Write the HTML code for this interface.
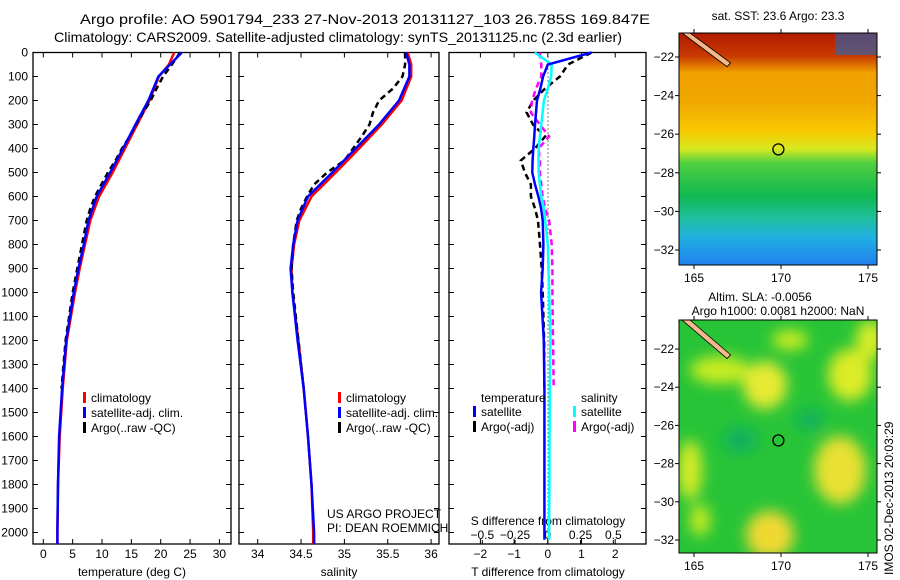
<!DOCTYPE html>
<html><head><meta charset="utf-8"><style>
body{margin:0;background:#fff;}
svg{display:block;font-family:"Liberation Sans",sans-serif;}
</style></head><body>
<svg id="fig" width="900" height="580" viewBox="0 0 900 580" xmlns="http://www.w3.org/2000/svg">
<defs>
<linearGradient id="sstg" x1="0" y1="0" x2="0" y2="1">
<stop offset="0" stop-color="#b01a00"/><stop offset="0.1" stop-color="#c83a00"/>
<stop offset="0.17" stop-color="#f0a000"/><stop offset="0.3" stop-color="#f0a800"/>
<stop offset="0.42" stop-color="#f8c800"/><stop offset="0.5" stop-color="#d8e820"/>
<stop offset="0.56" stop-color="#50d040"/><stop offset="0.7" stop-color="#10b850"/>
<stop offset="0.8" stop-color="#20c0a0"/><stop offset="0.88" stop-color="#20b0e0"/>
<stop offset="1" stop-color="#2080f0"/></linearGradient>
<filter id="blur" x="-50%" y="-50%" width="200%" height="200%"><feGaussianBlur stdDeviation="7"/></filter>
<clipPath id="slaclip"><rect x="679" y="320" width="198" height="233"/></clipPath>
</defs>
<g font-size="14" fill="#000">
<text x="80" y="24" textLength="570" lengthAdjust="spacingAndGlyphs">Argo profile: AO 5901794_233 27-Nov-2013 20131127_103 26.785S 169.847E</text>
<text x="54" y="42" textLength="568" lengthAdjust="spacingAndGlyphs">Climatology: CARS2009. Satellite-adjusted climatology: synTS_20131125.nc (2.3d earlier)</text>
</g>
<g id="panels"></g>
<g id="maps"></g>
<text transform="translate(893,575) rotate(-90)" font-size="12">IMOS 02-Dec-2013 20:03:29</text>
</svg>
<script>
// ---- data ----
const depths = [0,50,100,200,300,400,500,600,700,800,900,1000,1200,1400,1600,1800,2000,2048];
const tempClim = [22.3,21.4,19.7,18.1,16.0,13.9,11.8,9.5,8.0,7.1,6.2,5.4,4.0,3.3,2.8,2.5,2.4,2.4];
const tempSat = [23.6,21.6,19.6,17.9,15.7,13.6,11.4,9.1,7.7,6.9,6.0,5.2,3.9,3.2,2.7,2.5,2.4,2.4];
const argoDepths = [0,50,100,150,200,250,300,350,400,450,500,550,600,650,700,800,900,1000,1200,1400];
const tempArgo = [23.3,21.9,20.4,19.3,18.3,17.0,15.8,14.7,13.4,12.3,11.0,9.9,8.8,8.0,7.4,6.6,5.8,5.0,3.8,3.1];
const salClim = [35.73,35.77,35.77,35.66,35.43,35.17,34.9,34.62,34.48,34.42,34.39,34.4,34.47,34.53,34.58,34.62,34.64,34.64];
const salSat = [35.71,35.75,35.75,35.63,35.40,35.13,34.86,34.58,34.46,34.41,34.38,34.4,34.46,34.53,34.58,34.62,34.65,34.65];
const salArgo = [35.7,35.7,35.67,35.56,35.4,35.33,35.29,35.2,35.1,35.0,34.8,34.65,34.57,34.5,34.45,34.41,34.39,34.41,34.47,34.53];
const tDiffSat = [1.3,0.0,-0.14,-0.22,-0.32,-0.35,-0.38,-0.4,-0.43,-0.45,-0.46,-0.38,-0.28,-0.2,-0.15,-0.13,-0.15,-0.2,-0.12,-0.1];
const tDiffArgo = [1.3,0.6,0.36,-0.08,-0.43,-0.63,-0.44,-0.08,-0.38,-0.8,-0.68,-0.5,-0.5,-0.38,-0.29,-0.23,-0.18,-0.15,-0.11,-0.1];
const sDiffSat = [-0.1,0.03,0.025,0.0,-0.03,-0.04,-0.05,-0.06,-0.07,-0.07,-0.07,-0.06,-0.05,-0.03,-0.02,0.0,0.005,0.01,0.02,0.015];
const sDiffArgo = [-0.06,-0.05,-0.05,-0.09,-0.12,-0.13,-0.06,0.01,-0.07,-0.06,-0.06,-0.05,-0.04,-0.02,0.01,0.03,0.035,0.035,0.04,0.045];
const depthTicks = [0,100,200,300,400,500,600,700,800,900,1000,1100,1200,1300,1400,1500,1600,1700,1800,1900,2000];
const tTicks = [0,5,10,15,20,25,30];
const sTicks = [34,34.5,35,35.5,36];
const tdTicks = [-2,-1,0,1,2];
const sdTicks = [-0.5,-0.25,0,0.25,0.5];
const latTicks = [-22,-24,-26,-28,-30,-32];
const lonTicks = [165,170,175];

const NS='http://www.w3.org/2000/svg';
const g=document.getElementById('panels'), gm=document.getElementById('maps');
function el(tag,attrs,parent,txt){const e=document.createElementNS(NS,tag);for(const k in attrs)e.setAttribute(k,attrs[k]);if(txt!==undefined)e.textContent=txt;(parent||g).appendChild(e);return e;}
const yD=d=>52.5+0.24*d;
const yTop=52.5,yBot=544;
const P=[{x0:33,x1:231,sx:v=>43.3+5.87*v},{x0:239,x1:439,sx:v=>257.7+86.7*(v-34)},{x0:449,x1:646,sx:v=>547.8+33.7*v}];
const sdx=v=>547.8+131*v;

function frame(p,name){
  const r=el('rect',{x:p.x0,y:yTop,width:p.x1-p.x0,height:yBot-yTop,fill:'none',stroke:'#000','stroke-width':1.3});
  
  
  depthTicks.forEach(d=>{el('line',{x1:p.x0,x2:p.x0+5,y1:yD(d),y2:yD(d),stroke:'#000'});el('line',{x1:p.x1,x2:p.x1-5,y1:yD(d),y2:yD(d),stroke:'#000'});});
}
function line(xs,ds,fx,color,dash,name,w){
  const pts=xs.map((v,i)=>fx(v).toFixed(1)+','+yD(ds[i]).toFixed(1)).join(' ');
  const pl=el('polyline',{points:pts,fill:'none',stroke:color,'stroke-width':w||2.5,'stroke-dasharray':dash||'none'});
  
  
}
frame(P[0],'temperature-panel');frame(P[1],'salinity-panel');frame(P[2],'difference-panel');
depthTicks.forEach(d=>{const t=el('text',{x:28,y:yD(d)+4,'text-anchor':'end','font-size':12},g,String(d));
  
  });
function xticks(p,ticks,fx,fmt,ly){ticks.forEach(v=>{const x=fx(v);el('line',{x1:x,x2:x,y1:yBot,y2:yBot-5,stroke:'#000'});el('line',{x1:x,x2:x,y1:yTop,y2:yTop+5,stroke:'#000'});
  const t=el('text',{x:x,y:ly,'text-anchor':'middle','font-size':12},g,fmt(v));
  
  });}
xticks(P[0],tTicks,P[0].sx,v=>String(v),558);
xticks(P[1],sTicks,P[1].sx,v=>String(v),558);
xticks(P[2],tdTicks,P[2].sx,v=>String(v).replace('-','−'),558);
sdTicks.forEach(v=>{const x=sdx(v);el('line',{x1:x,x2:x,y1:yBot,y2:yBot-4,stroke:'#000'});
  const t=el('text',{x:x,y:539,'text-anchor':'middle','font-size':12},g,String(v).replace('-','−'));
  
  });
[[132,'temperature (deg C)'],[339,'salinity'],[548,'T difference from climatology']].forEach(a=>{const t=el('text',{x:a[0],y:576,'text-anchor':'middle','font-size':12},g,a[1]);
  
  });
const st=el('text',{x:548,y:525,'text-anchor':'middle','font-size':12},g,'S difference from climatology');


el('line',{x1:548,x2:548,y1:yTop,y2:yBot,stroke:'#000','stroke-dasharray':'1,3'});
line(tempClim,depths,P[0].sx,'#f00',null,'temp-climatology-line');
line(tempArgo,argoDepths,P[0].sx,'#000','6,4','temp-argo-line');
line(tempSat,depths,P[0].sx,'#00f',null,'temp-satellite-line');
line(salClim,depths,P[1].sx,'#f00',null,'sal-climatology-line');
line(salArgo,argoDepths,P[1].sx,'#000','6,4','sal-argo-line');
line(salSat,depths,P[1].sx,'#00f',null,'sal-satellite-line');
line(tDiffArgo,argoDepths,P[2].sx,'#000','6,4','tdiff-argo-line');
line(sDiffArgo,argoDepths,sdx,'#f0f','6,4','sdiff-argo-line');
line(sDiffSat,argoDepths,sdx,'#0ff',null,'sdiff-satellite-line');
line(tDiffSat,argoDepths,P[2].sx,'#00f',null,'tdiff-satellite-line');
el('polyline',{points:`${sdx(0.015)},${yD(1400)} ${sdx(0.01)},${yD(2030)}`,stroke:'#0ff','stroke-width':2.5});
el('polyline',{points:`${P[2].sx(-0.1)},${yD(1400)} ${P[2].sx(-0.1)},${yD(2030)}`,stroke:'#00f','stroke-width':2.5});
function leg(x,y,color,label){el('rect',{x:x,y:y-10,width:3,height:11,fill:color});const t=el('text',{x:x+8,y:y,'font-size':12},g,label);
  
  }
[[83,'#f00','climatology'],[83,'#00f','satellite-adj. clim.'],[83,'#000','Argo(..raw -QC)']].forEach((a,i)=>leg(a[0],402+i*15,a[1],a[2]));
[[338,'#f00','climatology'],[338,'#00f','satellite-adj. clim.'],[338,'#000','Argo(..raw -QC)']].forEach((a,i)=>leg(a[0],402+i*15,a[1],a[2]));
el('text',{x:481,y:402,'font-size':12},g,'temperature');
el('text',{x:581,y:402,'font-size':12},g,'salinity');
leg(473,416,'#00f','satellite');leg(473,431,'#000','Argo(-adj)');
leg(573,416,'#0ff','satellite');leg(573,431,'#f0f','Argo(-adj)');
el('text',{x:327,y:518,'font-size':12},g,'US ARGO PROJECT');
el('text',{x:327,y:532,'font-size':12},g,'PI: DEAN ROEMMICH');

function map(y0,y1,lat22,lat32,kind){
  const x0=679,x1=877;
  const ly=v=>lat22+(v+22)*(lat32-lat22)/(-10), lx=v=>694+(v-165)*17.4;
  if(kind==='sst'){const r=el('rect',{x:x0,y:y0,width:x1-x0,height:y1-y0,fill:'url(#sstg)'},gm);
    
    el('rect',{x:835,y:y0,width:42,height:22,fill:'#1070d0',opacity:0.55},gm);}
  else{const r=el('rect',{x:x0,y:y0,width:x1-x0,height:y1-y0,fill:'#28c438'},gm);
    
    const cg=el('g',{'clip-path':'url(#slaclip)'},gm);
    const fg=el('g',{filter:'url(#blur)'},cg);
    [[720,370,30,14,'#c8ec20'],[765,385,22,24,'#e8ea30'],[850,375,22,26,'#dcec28'],[870,340,14,20,'#d8ec28'],[690,470,12,30,'#d8ec28'],[840,470,26,34,'#e8e030'],[770,535,24,24,'#f0d830'],[700,520,10,16,'#c8ec20'],[790,340,18,10,'#c8ec20'],[810,420,14,10,'#10b060'],[740,440,18,12,'#10b060']].forEach(b=>el('ellipse',{cx:b[0],cy:b[1],rx:b[2],ry:b[3],fill:b[4]},fg));}
  el('polygon',{points:`682,${y0} 690,${y0} ${lx(167.1)},${ly(-22.3)} ${lx(166.9)},${ly(-22.5)}`,fill:'#f5b88a',stroke:'#000','stroke-width':0.8},gm);
  el('circle',{cx:lx(169.85),cy:ly(-26.785),r:5.5,fill:'none',stroke:'#000','stroke-width':1.3},gm);
  el('rect',{x:x0,y:y0,width:x1-x0,height:y1-y0,fill:'none',stroke:'#000'},gm);
  latTicks.forEach(v=>{el('line',{x1:x0-4,x2:x0,y1:ly(v),y2:ly(v),stroke:'#000'},gm);el('line',{x1:x1,x2:x1+4,y1:ly(v),y2:ly(v),stroke:'#000'},gm);
    const t=el('text',{x:x0-5,y:ly(v)+4,'text-anchor':'end','font-size':12},gm,String(v).replace('-','−'));
    });
  lonTicks.forEach(v=>{el('line',{x1:lx(v),x2:lx(v),y1:y1,y2:y1+4,stroke:'#000'},gm);el('line',{x1:lx(v),x2:lx(v),y1:y0,y2:y0-4,stroke:'#000'},gm);
    const t=el('text',{x:lx(v),y:y1+17,'text-anchor':'middle','font-size':12},gm,String(v));
    });
}
map(33,265,57,250,'sst');
map(320,553,349,540,'sla');
el('text',{x:778,y:20,'text-anchor':'middle','font-size':12},gm,'sat. SST: 23.6 Argo: 23.3');
el('text',{x:760,y:301,'text-anchor':'middle','font-size':12},gm,'Altim. SLA: -0.0056');
el('text',{x:778,y:315,'text-anchor':'middle','font-size':12},gm,'Argo h1000: 0.0081 h2000: NaN');
</script>
</body></html>
